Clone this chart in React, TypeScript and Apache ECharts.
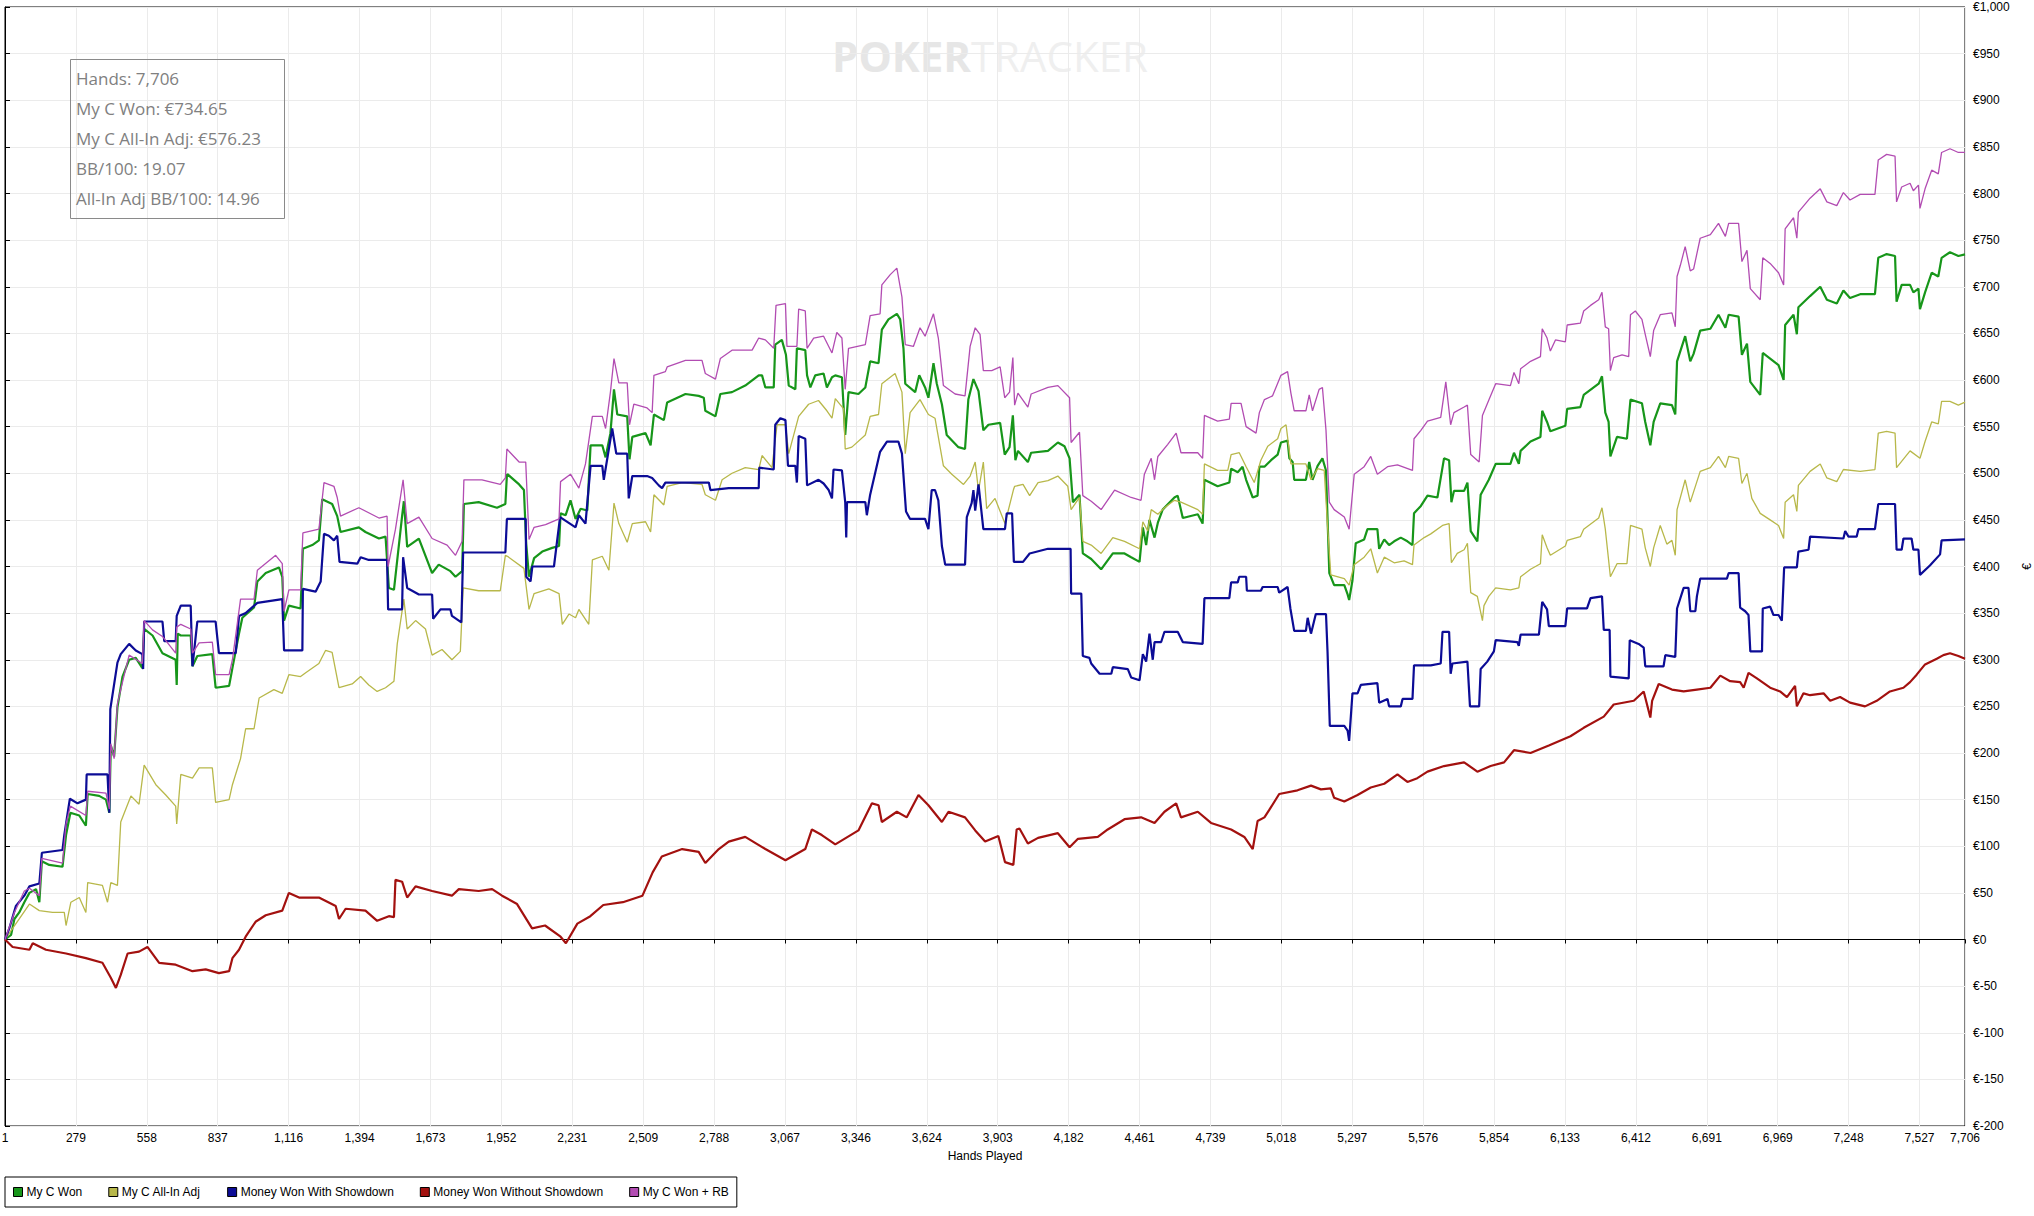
import React, { useEffect, useRef } from "react";
import * as echarts from "echarts";

// ---------- DATA ----------
const seriesNames = [
  "My C Won",
  "My C All-In Adj",
  "Money Won With Showdown",
  "Money Won Without Showdown",
  "My C Won + RB",
];

const infoLines = [
  "Hands: 7,706",
  "My C Won: €734.65",
  "My C All-In Adj: €576.23",
  "BB/100: 19.07",
  "All-In Adj BB/100: 14.96",
];

const totalHands = 7706;
const handTickStep = 278.75;
const yMin = -200;
const yMax = 1000;
const yStep = 50;

// [hand, euros]
const myCWon: [number, number][] = [
  [1,0],[25,5],[38,22],[57,29],[77,40],[97,50],[123,54],[136,40],[146,84],[175,80],[227,78],[241,112],[258,136],[293,133],[319,122],[326,156],[371,154],[398,150],[411,136],[417,208],[430,196],[443,249],[463,282],[489,300],[515,302],[541,291],[548,333],[581,326],[620,307],[672,300],[676,273],[680,328],[692,326],[731,326],[738,293],[757,304],[816,306],[829,270],[882,272],[895,291],[921,328],[934,345],[980,356],[993,384],[1026,393],[1078,399],[1091,389],[1098,342],[1117,358],[1163,355],[1172,419],[1209,423],[1235,428],[1248,472],[1287,467],[1307,454],[1320,437],[1392,442],[1418,437],[1471,430],[1497,432],[1510,377],[1530,375],[1562,454],[1569,470],[1582,421],[1628,430],[1680,393],[1706,402],[1752,395],[1772,389],[1798,395],[1805,467],[1863,469],[1935,463],[1968,467],[1974,498],
  [1976,499],[2022,488],[2041,482],[2050,424],[2061,389],[2081,409],[2113,416],[2152,420],[2179,422],[2185,457],[2205,455],[2224,471],[2244,451],[2264,462],[2290,460],[2303,530],[2349,530],[2362,517],[2381,543],[2395,590],[2408,563],[2447,561],[2456,515],[2467,539],[2519,543],[2539,530],[2552,563],[2591,557],[2604,576],[2676,585],[2728,583],[2748,581],[2754,567],[2794,561],[2813,585],[2859,587],[2911,594],[2964,605],[2977,605],[2990,592],[3023,592],[3029,638],[3055,643],[3071,627],[3082,594],[3108,590],[3114,634],[3147,632],[3154,605],[3167,592],[3186,605],[3219,607],[3232,592],[3252,603],[3265,605],[3291,603],[3304,541],[3317,587],[3356,585],[3383,592],[3402,620],[3435,618],[3448,654],[3474,665],[3507,671],[3520,665],[3533,634],[3540,596],[3579,587],[3595,605],[3618,592],[3631,581],[3651,618],[3664,596],[3684,574],[3703,541],[3749,528],[3775,526],[3788,579],[3808,601],[3828,588],[3847,546],[3867,552],[3913,554],
  [3931,520],[3950,528],[3963,562],[3973,514],[3983,524],[4022,512],[4035,522],[4101,524],[4140,533],[4166,529],[4186,516],[4199,469],[4225,477],[4238,414],[4271,408],[4310,397],[4356,414],[4402,414],[4428,410],[4461,405],[4474,442],[4487,423],[4500,450],[4520,431],[4533,447],[4552,461],[4598,474],[4611,476],[4631,452],[4690,456],[4709,446],[4716,493],[4768,486],[4814,490],[4821,505],[4847,501],[4866,507],[4880,493],[4906,474],[4925,476],[4932,507],[4952,507],[4978,514],[5004,520],[5017,533],[5043,535],[5050,516],[5063,512],[5069,493],[5115,493],[5128,512],[5141,493],[5161,508],[5180,516],[5194,503],[5207,393],[5226,380],[5266,380],[5279,370],[5285,364],[5298,385],[5311,425],[5344,429],[5357,440],[5396,440],[5403,419],[5423,429],[5442,423],[5462,427],[5488,431],[5514,427],[5534,423],[5540,457],[5567,465],[5593,476],[5632,474],[5658,516],[5678,514],[5687,469],[5697,481],[5737,481],[5750,490],[5763,438],[5789,427],
  [5802,477],[5834,493],[5861,510],[5919,510],[5933,522],[5952,510],[5959,524],[5998,534],[6037,539],[6044,567],[6063,555],[6076,545],[6135,551],[6142,569],[6194,571],[6207,584],[6266,596],[6279,604],[6292,565],[6305,555],[6312,518],[6338,539],[6377,537],[6391,579],[6436,575],[6449,555],[6469,530],[6482,555],[6508,575],[6554,573],[6567,563],[6574,620],[6606,647],[6626,620],[6639,628],[6665,653],[6705,655],[6737,670],[6764,656],[6777,670],[6816,668],[6829,627],[6849,639],[6862,598],[6901,584],[6911,629],[6940,623],[6973,616],[6993,600],[6999,659],[7032,670],[7045,649],[7051,678],[7097,690],[7137,700],[7163,686],[7202,682],[7228,696],[7254,688],[7294,692],[7352,692],[7365,731],[7398,735],[7431,733],[7437,684],[7457,702],[7490,702],[7503,694],[7523,698],[7529,676],[7549,694],[7575,715],[7601,711],[7614,731],[7647,737],[7680,733],[7706,734.65],
];

const myCAllInAdj: [number, number][] = [
  [1,0],[31,12],[57,22],[97,38],[136,31],[188,29],[234,29],[241,15],[260,40],[293,45],[319,29],[326,61],[384,58],[404,40],[417,61],[443,58],[456,126],[496,154],[528,145],[548,187],[594,166],[633,155],[672,143],[676,124],[692,177],[738,173],[764,184],[816,184],[829,147],[882,150],[895,166],[927,194],[947,226],[980,226],[1000,259],[1058,268],[1091,264],[1117,284],[1163,282],[1183,286],[1235,296],[1261,310],[1287,308],[1314,270],[1366,274],[1399,282],[1431,273],[1464,266],[1497,270],[1530,277],[1543,317],[1569,365],[1582,333],[1615,342],[1654,333],[1680,305],[1719,311],[1758,300],[1791,309],[1802,377],[1863,374],[1948,374],[1968,412],
  [1976,411],[2041,398],[2061,354],[2081,371],[2139,376],[2179,371],[2192,338],[2218,349],[2244,345],[2257,354],[2296,338],[2310,407],[2349,411],[2375,396],[2395,468],[2414,446],[2447,426],[2467,446],[2519,448],[2539,437],[2552,477],[2591,466],[2604,486],[2663,490],[2741,488],[2754,477],[2794,471],[2820,493],[2859,500],[2911,506],[2964,504],[2977,519],[3016,506],[3036,552],[3069,552],[3082,521],[3121,561],[3160,574],[3199,578],[3232,567],[3252,559],[3265,580],[3298,569],[3304,526],[3330,528],[3383,541],[3402,561],[3435,563],[3448,596],[3500,607],[3527,587],[3540,521],[3559,565],[3598,579],[3631,563],[3657,559],[3690,508],[3723,499],[3769,488],[3795,497],[3815,512],[3828,481],[3847,512],[3860,462],[3893,473],[3932,446],[3965,482],
  [3970,486],[4003,488],[4029,476],[4062,490],[4101,492],[4140,497],[4179,486],[4192,461],[4225,474],[4238,427],[4271,423],[4310,414],[4356,431],[4402,427],[4461,419],[4474,448],[4493,438],[4507,461],[4533,456],[4559,463],[4598,471],[4624,469],[4690,461],[4709,456],[4716,510],[4768,503],[4808,503],[4821,520],[4853,522],[4880,507],[4912,490],[4938,514],[4965,529],[5004,537],[5017,548],[5037,552],[5056,510],[5115,510],[5135,493],[5161,505],[5187,503],[5200,444],[5213,391],[5266,387],[5285,380],[5305,402],[5344,410],[5370,419],[5396,393],[5423,410],[5462,404],[5501,406],[5534,402],[5540,423],[5580,431],[5606,435],[5652,444],[5678,446],[5687,404],[5710,414],[5737,418],[5750,425],[5763,372],[5789,368],[5809,342],
  [5815,358],[5834,368],[5861,377],[5919,375],[5952,377],[5959,389],[5998,397],[6037,403],[6044,434],[6063,420],[6076,412],[6135,422],[6142,428],[6194,432],[6207,440],[6266,452],[6279,463],[6292,440],[6312,389],[6338,403],[6377,403],[6391,444],[6436,440],[6449,420],[6469,400],[6482,420],[6508,444],[6534,424],[6554,428],[6567,412],[6574,461],[6606,493],[6626,469],[6665,502],[6705,506],[6737,518],[6764,506],[6777,518],[6816,516],[6829,489],[6849,500],[6868,473],[6901,457],[6940,450],[6973,444],[6993,430],[6999,469],[7032,477],[7045,459],[7051,487],[7097,502],[7137,510],[7163,495],[7202,491],[7228,504],[7294,502],[7352,504],[7365,543],[7398,545],[7431,543],[7437,506],[7490,524],[7529,516],[7549,534],[7575,555],[7601,553],[7614,577],[7647,577],[7680,573],[7706,576.23],
];

const wonWithShowdown: [number, number][] = [
  [1,0],[18,12],[44,36],[77,47],[97,57],[136,60],[146,93],[227,96],[234,112],[256,151],[286,146],[319,150],[322,177],[404,177],[411,136],[415,247],[443,297],[456,306],[489,317],[515,310],[541,306],[544,290],[548,341],[620,341],[627,320],[672,320],[676,347],[692,358],[731,358],[738,293],[757,341],[829,341],[842,307],[908,307],[921,347],[947,350],[993,361],[1091,365],[1098,310],[1170,310],[1172,376],[1222,373],[1242,384],[1255,435],[1274,433],[1294,428],[1307,433],[1316,405],[1386,403],[1399,410],[1431,407],[1503,407],[1507,354],[1562,354],[1566,410],[1582,377],[1628,370],[1680,370],[1684,344],[1713,354],[1752,354],[1758,347],[1795,340],[1802,415],[1968,415],[1974,451],
  [2048,451],[2050,389],[2067,384],[2074,400],[2159,400],[2183,453],[2244,442],[2257,455],[2283,446],[2303,508],[2349,508],[2355,493],[2388,548],[2404,521],[2447,521],[2453,473],[2467,497],[2525,497],[2545,495],[2571,487],[2584,484],[2597,490],[2768,490],[2774,482],[2846,484],[2964,484],[2966,506],[3023,504],[3029,552],[3049,559],[3069,557],[3079,508],[3108,508],[3114,490],[3121,540],[3147,537],[3154,487],[3199,493],[3219,489],[3239,482],[3252,473],[3258,504],[3291,503],[3304,469],[3308,431],[3311,469],[3383,469],[3389,455],[3402,477],[3441,523],[3468,534],[3513,534],[3527,521],[3543,459],[3559,451],[3618,451],[3631,440],[3644,482],[3657,482],[3670,471],[3684,422],[3697,402],[3775,402],[3782,453],[3801,468],[3808,482],[3815,460],[3828,488],[3847,440],[3932,440],[3939,457],[3960,457],
  [3967,405],[4003,405],[4029,414],[4101,419],[4190,419],[4192,371],[4232,371],[4238,304],[4264,302],[4271,296],[4304,285],[4350,285],[4356,292],[4415,290],[4428,281],[4461,278],[4474,306],[4487,298],[4500,328],[4513,300],[4520,319],[4546,319],[4559,330],[4611,330],[4631,319],[4709,317],[4716,366],[4814,366],[4821,383],[4847,383],[4853,389],[4880,389],[4883,374],[4938,374],[4945,378],[5004,378],[5010,372],[5043,378],[5054,355],[5069,331],[5115,331],[5122,345],[5135,328],[5154,349],[5194,349],[5200,309],[5209,229],[5266,229],[5279,224],[5285,213],[5298,264],[5318,264],[5331,273],[5396,275],[5403,254],[5436,258],[5442,250],[5488,250],[5495,258],[5534,258],[5540,294],[5606,294],[5645,296],[5652,330],[5678,330],[5684,285],[5691,296],[5750,298],[5760,250],[5796,250],[5802,290],[5828,298],[5854,309],[5861,321],
  [5946,319],[5952,315],[5959,327],[6031,327],[6044,362],[6063,354],[6070,336],[6135,336],[6142,355],[6220,355],[6234,366],[6279,368],[6286,332],[6309,332],[6312,282],[6384,280],[6388,321],[6423,317],[6443,313],[6449,293],[6521,293],[6528,305],[6567,303],[6574,355],[6600,377],[6619,377],[6626,352],[6646,352],[6652,368],[6665,387],[6770,387],[6777,393],[6816,393],[6822,356],[6842,352],[6855,348],[6862,309],[6908,309],[6911,355],[6940,357],[6953,348],[6973,348],[6986,342],[6995,399],[7045,399],[7051,416],[7091,418],[7097,432],[7228,430],[7235,438],[7248,432],[7280,432],[7287,440],[7352,440],[7365,467],[7431,467],[7437,418],[7457,418],[7464,430],[7496,430],[7503,418],[7523,418],[7529,391],[7568,401],[7608,413],[7614,428],[7706,429],
];

const wonWithoutShowdown: [number, number][] = [
  [1,0],[31,-8],[97,-11],[110,-4],[162,-11],[241,-15],[319,-20],[384,-25],[417,-41],[437,-52],[456,-38],[483,-15],[528,-13],[561,-8],[607,-25],[672,-27],[738,-34],[790,-32],[842,-36],[882,-34],[895,-20],[921,-11],[947,3],[986,19],[1026,26],[1091,31],[1117,50],[1157,45],[1235,45],[1301,36],[1314,22],[1340,33],[1418,31],[1464,20],[1510,25],[1530,24],[1536,64],[1562,62],[1582,45],[1615,57],[1680,52],[1758,47],[1785,54],[1863,52],[1916,54],[1955,47],[2014,38],
  [2073,12],[2124,15],[2185,3],[2206,-4],[2251,17],[2302,25],[2353,37],[2430,40],[2507,47],[2547,72],[2583,89],
  [2663,97],[2728,94],[2754,82],[2807,97],[2846,105],[2911,110],[2990,97],[3069,85],[3147,97],[3173,118],[3212,112],[3265,102],[3356,117],[3409,146],[3435,144],[3448,126],[3507,137],[3546,131],[3592,155],[3631,144],[3684,126],[3710,137],[3775,131],[3815,117],[3854,105],[3906,111],[3932,83],[3965,80],[3978,118],
  [3989,119],[4022,103],[4062,109],[4140,114],[4186,99],[4219,108],[4297,110],[4336,118],[4402,129],[4467,131],[4520,125],[4559,137],[4605,146],[4624,131],[4690,137],[4742,125],[4821,118],[4873,110],[4906,97],[4925,127],[4952,131],[4971,139],[5010,156],[5082,160],[5135,165],[5174,161],[5213,162],[5226,152],[5266,148],[5318,155],[5370,163],[5423,167],[5475,177],[5514,169],[5553,173],[5593,180],[5658,186],[5737,190],[5789,180],[5841,186],[5894,190],[5933,203],
  [5998,200],[6070,208],[6155,218],[6207,227],[6286,239],[6325,252],[6404,256],[6443,266],[6469,238],[6476,256],[6502,274],[6554,268],[6600,266],[6652,268],[6705,270],[6744,283],[6783,277],[6822,276],[6836,270],[6855,286],[6888,280],[6940,270],[6979,266],[7006,260],[7038,272],[7045,250],[7071,264],[7097,262],[7150,264],[7176,256],[7215,260],[7254,254],[7313,250],[7359,256],[7411,266],[7464,270],[7490,276],[7516,284],[7549,295],[7595,301],[7621,305],[7647,307],[7680,304],[7706,301],
];

const myCWonPlusRB: [number, number][] = [
  [1,0],[38,29],[77,52],[97,55],[136,47],[146,87],[227,82],[241,124],[258,143],[319,133],[326,159],[398,157],[411,140],[417,210],[430,194],[443,253],[463,276],[489,305],[541,296],[548,342],[581,332],[620,325],[672,307],[676,335],[692,338],[731,333],[738,307],[764,318],[816,319],[829,284],[882,284],[895,300],[927,365],[980,365],[993,396],[1065,412],[1091,403],[1098,352],[1117,375],[1163,375],[1172,436],[1235,440],[1255,490],[1294,486],[1307,474],[1320,454],[1392,463],[1471,452],[1503,454],[1507,400],[1536,440],[1566,493],[1582,446],[1628,453],[1680,430],[1739,423],[1772,412],[1798,427],[1805,493],[1876,493],[1948,488],[1968,495],[1974,526],
  [1976,526],[2022,512],[2048,512],[2061,429],[2081,442],[2126,445],[2179,451],[2185,491],[2224,499],[2257,484],[2283,510],[2310,561],[2349,561],[2362,548],[2381,587],[2395,623],[2414,597],[2447,597],[2456,552],[2473,574],[2525,570],[2545,565],[2552,605],[2597,609],[2604,614],[2676,621],[2741,621],[2754,607],[2794,601],[2813,623],[2859,632],[2938,632],[2964,645],[2990,643],[3023,634],[3032,680],[3069,682],[3075,636],[3114,636],[3121,676],[3147,674],[3154,634],[3180,645],[3219,647],[3252,629],[3271,651],[3291,645],[3304,590],[3317,634],[3383,638],[3402,669],[3441,671],[3448,702],[3481,713],[3507,720],[3527,689],[3540,638],[3572,636],[3598,656],[3618,647],[3651,671],[3670,645],[3690,594],[3736,585],[3775,583],[3795,636],[3815,656],[3834,649],[3847,610],[3880,610],[3913,614],
  [3931,581],[3950,587],[3963,624],[3970,573],[3983,586],[4022,571],[4035,585],[4101,592],[4140,594],[4186,581],[4192,533],[4225,544],[4238,476],[4271,470],[4310,461],[4363,482],[4428,474],[4467,471],[4480,499],[4507,516],[4520,493],[4533,518],[4572,531],[4605,543],[4624,522],[4690,522],[4709,516],[4716,562],[4768,556],[4814,558],[4821,575],[4860,575],[4880,550],[4919,543],[4932,565],[4952,579],[4984,583],[5017,605],[5043,609],[5056,586],[5069,567],[5115,567],[5128,584],[5141,567],[5167,590],[5180,592],[5194,546],[5207,469],[5226,461],[5266,453],[5285,440],[5305,499],[5344,507],[5370,518],[5396,499],[5436,507],[5475,509],[5534,503],[5540,537],[5567,546],[5593,556],[5645,560],[5665,598],[5684,552],[5697,565],[5737,571],[5750,573],[5763,520],[5796,512],[5809,562],[5835,579],[5861,596],
  [5919,594],[5933,608],[5952,596],[5959,612],[5998,620],[6037,625],[6044,655],[6063,645],[6076,631],[6096,643],[6135,641],[6142,659],[6194,661],[6207,674],[6234,680],[6266,686],[6279,694],[6292,657],[6305,655],[6312,610],[6325,624],[6358,627],[6384,625],[6391,670],[6410,674],[6436,665],[6449,649],[6469,625],[6482,653],[6508,670],[6554,672],[6567,657],[6574,711],[6587,723],[6606,743],[6626,717],[6639,719],[6665,752],[6705,756],[6737,768],[6764,754],[6777,768],[6816,768],[6829,727],[6849,739],[6862,698],[6901,686],[6911,731],[6940,725],[6973,715],[6993,702],[6999,762],[7032,774],[7045,752],[7051,780],[7097,795],[7137,805],[7163,791],[7202,787],[7228,801],[7254,793],[7294,799],[7352,799],[7365,836],[7398,842],[7431,840],[7437,791],[7457,807],[7490,811],[7503,803],[7523,809],[7529,784],[7549,805],[7575,825],[7601,821],[7614,844],[7647,848],[7680,844],[7706,844],
];

const seriesData = [myCWon, myCAllInAdj, wonWithShowdown, wonWithoutShowdown, myCWonPlusRB];

// ---------- STYLE ----------
const seriesColors = ["#17961a", "#b8b84a", "#0c0c96", "#a3110f", "#b24cb2"];
const seriesWidths = [2.2, 1.3, 2.2, 2.2, 1.3];
const axisFont = "'Liberation Sans', Arial, sans-serif";

export default function App() {
  const ref = useRef<HTMLDivElement>(null);

  useEffect(() => {
    if (!ref.current) return;
    const chart = echarts.init(ref.current, undefined, { renderer: "svg" });

    const series: any[] = seriesNames.map((name, i) => ({
      name,
      type: "line",
      data: seriesData[i].map(([h, v]) => [h - 1, v]),
      showSymbol: false,
      symbol: "none",
      color: seriesColors[i],
      lineStyle: { color: seriesColors[i], width: seriesWidths[i] },
      itemStyle: { color: seriesColors[i], borderColor: "#000", borderWidth: 1 },
      z: 3 + i,
    }));

    series[3].markLine = {
      silent: true,
      symbol: "none",
      label: { show: false },
      lineStyle: { color: "#000", width: 1, type: "solid" },
      data: [{ yAxis: 0 }],
      z: 2,
    };

    chart.setOption({
      animation: false,
      backgroundColor: "#ffffff",
      textStyle: { fontFamily: axisFont },
      grid: {
        left: 5,
        right: 69,
        top: 7,
        bottom: 90,
        show: true,
        borderColor: "#000",
        borderWidth: 1,
        backgroundColor: "transparent",
        outerBoundsMode: "none",
        containLabel: false,
      },
      xAxis: {
        type: "value",
        min: 0,
        max: totalHands - 1,
        interval: handTickStep,
        name: "Hands Played",
        nameLocation: "middle",
        nameGap: 24,
        nameTextStyle: { fontFamily: axisFont, fontSize: 12, color: "#000" },
        axisLine: { show: true, lineStyle: { color: "#000", width: 1 } },
        axisTick: { show: true, length: 4, lineStyle: { color: "#000" } },
        axisLabel: {
          fontFamily: axisFont,
          fontSize: 12,
          color: "#000",
          margin: 6,
          showMinLabel: true,
          showMaxLabel: true,
          formatter: (v: number) =>
            (v >= totalHands - 1 ? totalHands : Math.floor(v + 1)).toLocaleString("en-US"),
        },
        splitLine: { show: true, lineStyle: { color: "#ebebeb", width: 1 } },
      },
      yAxis: {
        type: "value",
        position: "right",
        min: yMin,
        max: yMax,
        interval: yStep,
        name: "€",
        nameLocation: "middle",
        nameGap: 54,
        nameRotate: 90,
        nameTextStyle: { fontFamily: axisFont, fontSize: 12, color: "#000" },
        axisLine: { show: true, lineStyle: { color: "#000", width: 1 } },
        axisTick: { show: true, length: 5, lineStyle: { color: "#000" } },
        axisLabel: {
          fontFamily: axisFont,
          fontSize: 12,
          color: "#000",
          margin: 8,
          formatter: (v: number) => "€" + v.toLocaleString("en-US"),
        },
        splitLine: { show: true, lineStyle: { color: "#ebebeb", width: 1 } },
      },
      legend: {
        data: seriesNames,
        left: 5,
        top: 1177,
        orient: "horizontal",
        icon: "rect",
        itemWidth: 9,
        itemHeight: 9,
        itemGap: 26,
        padding: [9, 8, 9, 8],
        borderColor: "#000",
        borderWidth: 1,
        selectedMode: false,
        itemStyle: { borderColor: "#000", borderWidth: 1 },
        textStyle: { fontFamily: axisFont, fontSize: 12, color: "#000", padding: [0, 0, 0, -1] },
      },
      graphic: [
        {
          type: "text",
          x: 990,
          y: 55,
          z: 0,
          silent: true,
          style: {
            text: "{a|POKER}{b|TRACKER}",
            align: "center",
            verticalAlign: "middle",
            rich: {
              a: { fontFamily: "'Open Sans', sans-serif", fontWeight: "bold", fontSize: 42, fill: "#e6e6e6", color: "#e6e6e6" },
              b: { fontFamily: "'Open Sans', sans-serif", fontWeight: "normal", fontSize: 42, fill: "#efefef", color: "#efefef" },
            },
          },
        },
        {
          type: "rect",
          silent: true,
          z: 10,
          shape: { x: 70.5, y: 59.5, width: 214, height: 159 },
          style: { fill: "transparent", stroke: "#8a8a8a", lineWidth: 1 },
        },
        ...infoLines.map((t, i) => ({
          type: "text",
          silent: true,
          z: 11,
          x: 76,
          y: 78 + 30 * i,
          style: {
            text: t,
            fill: "#808080",
            font: "17px 'Open Sans', 'Noto Sans', sans-serif",
            verticalAlign: "middle",
          },
        })),
      ],
      series,
    });

    return () => chart.dispose();
  }, []);

  return (
    <div
      ref={ref}
      style={{ position: "absolute", left: 0, top: 0, width: 2034, height: 1216 }}
    />
  );
}
